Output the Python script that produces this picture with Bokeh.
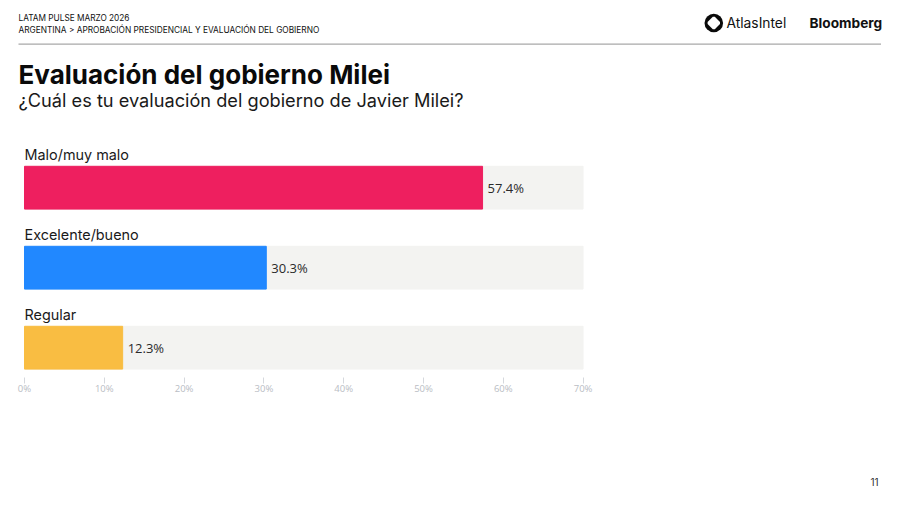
from bokeh.plotting import figure
from bokeh.layouts import column
from bokeh.models import Range1d, FixedTicker, PrintfTickFormatter, ColumnDataSource
from bokeh.core.properties import value
from bokeh.embed import file_html
from bokeh.resources import INLINE
import numpy as np

categories = ["Malo/muy malo", "Excelente/bueno", "Regular"]
values = [57.4, 30.3, 12.3]
bar_colors = ["#ee1f5f", "#2188ff", "#f9bd42"]
value_labels = ["57.4%", "30.3%", "12.3%"]
axis_ticks = [0, 10, 20, 30, 40, 50, 60, 70]
axis_max = 70
kicker = "LATAM PULSE MARZO 2026"
breadcrumb = "ARGENTINA > APROBACIÓN PRESIDENCIAL Y EVALUACIÓN DEL GOBIERNO"
title = "Evaluación del gobierno Milei"
subtitle = "¿Cuál es tu evaluación del gobierno de Javier Milei?"
page_number = "11"

W, H = 900, 506
HEAD_H, FOOT_H = 137, 40
X0, FB = 24, 377
KX, Y0, KY = 7.98, 187.2, 80.0

def panel(height, y_top):
    f = figure(width=W, height=height, output_backend="svg", toolbar_location=None,
               x_range=Range1d(0, W), y_range=Range1d(y_top + height, y_top),
               x_axis_location=None, y_axis_location=None,
               min_border=0, outline_line_color=None, background_fill_color="white")
    f.grid.visible = False
    return f

def label(f, x, y, text, size, font="Inter", style="normal", color="#111111"):
    f.text(x=[x], y=[y], text=[text], text_baseline="middle",
           text_font=value(font), text_font_size=size, text_font_style=style, text_color=color)

# header
head = panel(HEAD_H, 0)
label(head, 18, 17, kicker, "8.27px")
label(head, 18, 29, breadcrumb, "8.3px")
label(head, 18, 74, title, "26px", style="bold", color="#0a0a0a")
label(head, 18, 99, subtitle, "18.2px", color="#1a1a1a")
label(head, 726, 22.5, "AtlasIntel", "13.8px")
label(head, 809, 22.5, "Bloomberg", "13.7px", style="bold")
head.quad(left=[18], right=[880.5], top=[43], bottom=[44.2], color="#a8a8a8", line_color=None)
head.scatter(x=[713.3], y=[22.5], size=18.6, marker="circle", color="#0a0a0a", line_color=None)
cx, cy, r, c = 713.3, 22.5, 6.2, 1.0
xs = [cx-c, cx+c, cx+r, cx+r, cx+c, cx-c, cx-r, cx-r]
ys = [cy-r, cy-r, cy-c, cy+c, cy+r, cy+r, cy+c, cy-c]
head.patch(x=xs, y=ys, color="white", line_color=None)

# chart: the frame spans the page width, so it lines up with header and footer
CH_H = H - HEAD_H - FOOT_H
p = figure(width=W, height=CH_H, output_backend="svg", toolbar_location=None,
           x_range=Range1d(-X0 / KX, (W - X0) / KX),
           y_range=Range1d((FB - Y0) / KY, (HEAD_H - Y0) / KY),
           min_border_left=0, min_border_right=0, min_border_top=0,
           min_border_bottom=HEAD_H + CH_H - FB,
           outline_line_color=None, background_fill_color="white")
p.grid.visible = False
p.yaxis.visible = False
ax = p.xaxis[0]
ax.ticker = FixedTicker(ticks=axis_ticks)
ax.formatter = PrintfTickFormatter(format="%d%%")
ax.axis_line_color = None
ax.major_tick_in = 0
ax.major_tick_out = 6
ax.minor_tick_line_color = None
ax.major_tick_line_color = "#d5d8dd"
ax.major_label_text_color = "#b9bdc4"
ax.major_label_text_font = "Open Sans"
ax.major_label_text_font_size = "9.5px"
ax.major_label_standoff = -2

pos = np.arange(len(categories))
src = ColumnDataSource(dict(y=pos, v=values, c=bar_colors, t=value_labels, cat=categories,
                            track=[axis_max]*len(values), zero=[0]*len(values)))
p.hbar(y="y", left="zero", right="track", height=0.535, color="#f3f3f1", source=src)
p.hbar(y="y", left="zero", right="v", height=0.535, color="c", source=src)
p.text(x="v", y="y", text="t", source=src, x_offset=5, text_baseline="middle",
       text_font=value("Open Sans"), text_font_size="13px", text_color="#2a2a2a")
p.text(x="zero", y="y", text="cat", source=src, y_offset=-33, text_baseline="middle",
       text_font=value("Inter"), text_font_size="14.4px", text_color="#1a1a1a")

# footer
foot = panel(FOOT_H, H - FOOT_H)
label(foot, 870, 481, page_number, "10px", color="#333333")

open("out.html", "w").write(file_html(column(head, p, foot, spacing=0), INLINE))
